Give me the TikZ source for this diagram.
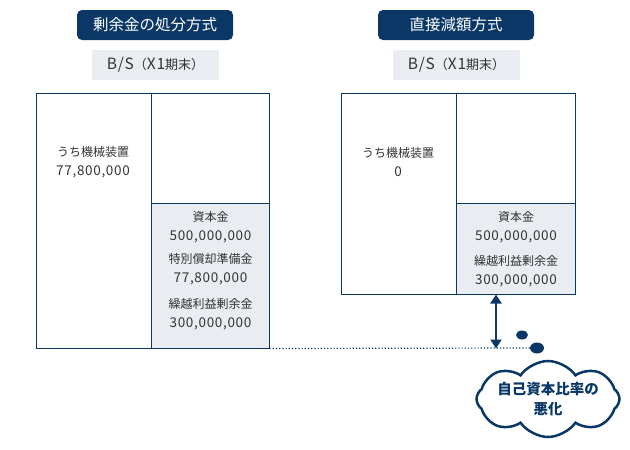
\documentclass[tikz,border=0pt]{standalone}
\usepackage{fontspec}
\setmainfont{Noto Sans CJK JP}
\newfontfamily\numfont[LetterSpace=5]{Noto Sans CJK JP}
\usetikzlibrary{arrows.meta,shapes.symbols,shapes.geometric}
\definecolor{navy}{HTML}{0A3766}
\definecolor{shade}{HTML}{E9ECF1}
\definecolor{ink}{HTML}{333333}
\tikzset{
  title/.style={fill=navy, text=white, rounded corners=5pt, minimum width=156pt, minimum height=30pt, font=\fontsize{15.5}{18}\selectfont},
  bslabel/.style={fill=shade, text=ink, minimum width=127pt, minimum height=30pt, font=\fontsize{13}{17}\selectfont},
  cell/.style={draw=navy, line width=1pt, inner sep=0pt},
  txt/.style={text=ink, align=center, font=\fontsize{12}{19}\selectfont, inner sep=0pt}
}
\newcommand{\amount}[1]{{\numfont\fontsize{13.5}{19}\selectfont #1}}
\newcommand{\bstag}{{\numfont\fontsize{15.5}{17}\selectfont B/S}（{\numfont\fontsize{15.5}{17}\selectfont X1}期末）}
\begin{document}
\begin{tikzpicture}[x=1pt,y=-1pt]
\useasboundingbox (0,0) rectangle (630,450);
% left: 剰余金の処分方式
\node[title] (titleL) at (155,25) {剰余金の処分方式};
\node[bslabel] (bsL) at (155.5,65) {\bstag};
\node[cell, minimum width=115.5pt, minimum height=255pt] (assetL) at (93.75,220.5) {};
\node[cell, minimum width=117.5pt, minimum height=110pt] (upperL) at (210.25,148) {};
\node[cell, fill=shade, minimum width=117.5pt, minimum height=145pt] (eqL) at (210.25,275.5) {};
\node[txt] (machL) at (93,162) {うち機械装置\\\amount{77,800,000}};
\node[txt] (capL) at (210.5,227.5) {資本金\\\amount{500,000,000}};
\node[txt] (resL) at (210.5,269.5) {特別償却準備金\\\amount{77,800,000}};
\node[txt] (earnL) at (210.5,314.5) {繰越利益剰余金\\\amount{300,000,000}};
% right: 直接減額方式
\node[title] (titleR) at (456,25) {直接減額方式};
\node[bslabel] (bsR) at (456.5,65) {\bstag};
\node[cell, minimum width=115pt, minimum height=201pt] (assetR) at (398.5,193.5) {};
\node[cell, minimum width=119pt, minimum height=110pt] (upperR) at (515.5,148) {};
\node[cell, fill=shade, minimum width=119pt, minimum height=91pt] (eqR) at (515.5,248.5) {};
\node[txt] (machR) at (398,162) {うち機械装置\\\amount{0}};
\node[txt] (capR) at (516,227.5) {資本金\\\amount{500,000,000}};
\node[txt] (earnR) at (516,271) {繰越利益剰余金\\\amount{300,000,000}};
% thought bubble
\node[fill=navy, ellipse, minimum width=14pt, minimum height=11pt, inner sep=0pt] (bigdot) at (537,348) {};
\node[fill=navy, ellipse, minimum width=12pt, minimum height=9pt, inner sep=0pt] (smalldot) at (522,335) {};
\node[cloud, draw=navy, line width=2.5pt, fill=white, cloud puffs=8, cloud puff arc=110, aspect=1.85,
      minimum width=143pt, minimum height=76pt, inner sep=0pt] (worse) at (548,399) {};
\node[text=navy, align=center, font=\fontsize{14.5}{20}\bfseries] (worsetxt) at (worse.center) {自己資本比率の\\悪化};
\draw[navy, line width=1.2pt, dotted] (eqL.south east) -- (bigdot.west);
\draw[navy, line width=2.2pt, {Triangle[width=11pt,length=9pt]}-{Triangle[width=11pt,length=9pt]}]
  (eqR.south -| 496,0) -- (assetL.south -| 496,0);
\end{tikzpicture}
\end{document}
